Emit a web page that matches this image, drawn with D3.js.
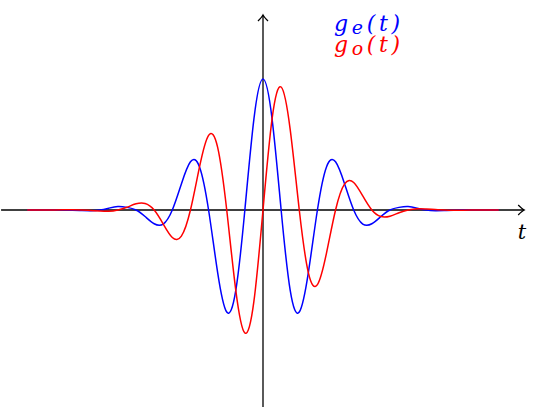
<!DOCTYPE html>
<html>
<head>
<meta charset="utf-8">
<script src="https://cdn.jsdelivr.net/npm/d3@7"></script>
<style>
  body { margin: 0; background: white; }
  svg { display: block; }
</style>
</head>
<body>
<div id="container"></div>
<script>
let w = 536;
let h = 407;

// sample points (t in half-periods)
let tValues = [-6.5,-6.25,-6,-5.75,-5.5,-5.25,-5,-4.75,-4.5,-4.25,-4,-3.75,-3.5,-3.25,-3,-2.75,-2.5,-2.25,-2,-1.75,-1.5,-1.25,-1,-0.75,-0.5,-0.25,
  0,0.25,0.5,0.75,1,1.25,1.5,1.75,2,2.25,2.5,2.75,3,3.25,3.5,3.75,4,4.25,4.5,4.75,5,5.25,5.5,5.75,6,6.25,6.5];

// even part g_e(t), blue
let geValues = [0,0,0,0,0,-0.002,-0.004,-0.005,0,0.014,0.026,0.02,0,-0.05,-0.105,-0.107,0,0.199,0.368,0.329,0,-0.478,-0.779,-0.614,0,0.696,
  1,0.696,0,-0.614,-0.779,-0.478,0,0.329,0.368,0.199,0,-0.107,-0.105,-0.05,0,0.02,0.026,0.014,0,-0.005,-0.004,-0.002,0,0,0,0,0];

// odd part g_o(t), red
let goValues = [0,0,0,0,0.001,0.002,0,-0.004,-0.008,-0.01,0,0.021,0.047,0.05,0,-0.107,-0.21,-0.199,0,0.329,0.57,0.478,0,-0.614,-0.939,-0.696,
  0,0.696,0.939,0.614,0,-0.478,-0.57,-0.329,0,0.199,0.21,0.107,0,-0.05,-0.047,-0.021,0,0.01,0.008,0.004,0,-0.002,-0.001,0,0,0,0];

let seriesNames = ["e", "o"];
let seriesColors = ["#0000ff", "#ff0000"];

let viz = d3.select("#container").append("svg")
    .attr("width", w)
    .attr("height", h)
    .style("background-color", "white")
;

let xScale = d3.scaleLinear().domain([-7.25, 7.25]).range([0, 526]);
let yScale = d3.scaleLinear().domain([-1.5, 1.5]).range([406.5, 13.5]);

// axes
let axes = viz.append("g").attr("class", "axes")
    .attr("stroke", "black")
    .attr("stroke-width", 1.3)
    .attr("fill", "none");

let x0 = xScale(-7.22), x1 = xScale(7.2);
let y0 = yScale(0);
axes.append("line").attr("x1", x0).attr("x2", x1).attr("y1", y0).attr("y2", y0);
axes.append("path")
    .attr("d", "M" + (x1 - 6) + "," + (y0 - 5) + " Q" + (x1 - 2) + "," + (y0 - 1) + " " + x1 + "," + y0
      + " Q" + (x1 - 2) + "," + (y0 + 1) + " " + (x1 - 6) + "," + (y0 + 5));

let xc = xScale(0);
let yTop = 15;
axes.append("line").attr("x1", xc).attr("x2", xc).attr("y1", h).attr("y2", yTop);
axes.append("path")
    .attr("d", "M" + (xc - 5) + "," + (yTop + 6) + " Q" + (xc - 1) + "," + (yTop + 2) + " " + xc + "," + yTop
      + " Q" + (xc + 1) + "," + (yTop + 2) + " " + (xc + 5) + "," + (yTop + 6));

viz.append("text")
    .text("t")
    .attr("x", 522)
    .attr("y", 239)
    .attr("text-anchor", "middle")
    .attr("font-family", "DejaVu Serif")
    .attr("font-style", "italic")
    .attr("font-size", 21)
;

// curves
let line = d3.line()
    .x(d => xScale(d.t))
    .y(d => yScale(d.v))
    .curve(d3.curveNatural);

let series = [geValues, goValues].map((vals, i) => tValues.map((t, j) => ({t: t, v: vals[j]})));

viz.append("g").attr("class", "curves")
  .selectAll("path").data(series).enter()
  .append("path")
    .attr("d", d => line(d))
    .attr("fill", "none")
    .attr("stroke", (d, i) => seriesColors[i])
    .attr("stroke-width", 1.5)
;

// labels
let labels = viz.append("g").attr("class", "labels")
  .selectAll("text").data(seriesNames).enter()
  .append("text")
    .attr("x", 334)
    .attr("y", (d, i) => 31 + i * 21)
    .attr("fill", (d, i) => seriesColors[i])
    .attr("textLength", 66)
    .attr("lengthAdjust", "spacing")
    .attr("font-family", "DejaVu Serif")
    .attr("font-style", "italic")
    .attr("font-size", 22)
;
labels.append("tspan").text("g");
labels.append("tspan").text(d => d).attr("dy", 3).attr("font-size", 19);
labels.append("tspan").text("(t)").attr("dy", -3);
</script>
</body>
</html>
